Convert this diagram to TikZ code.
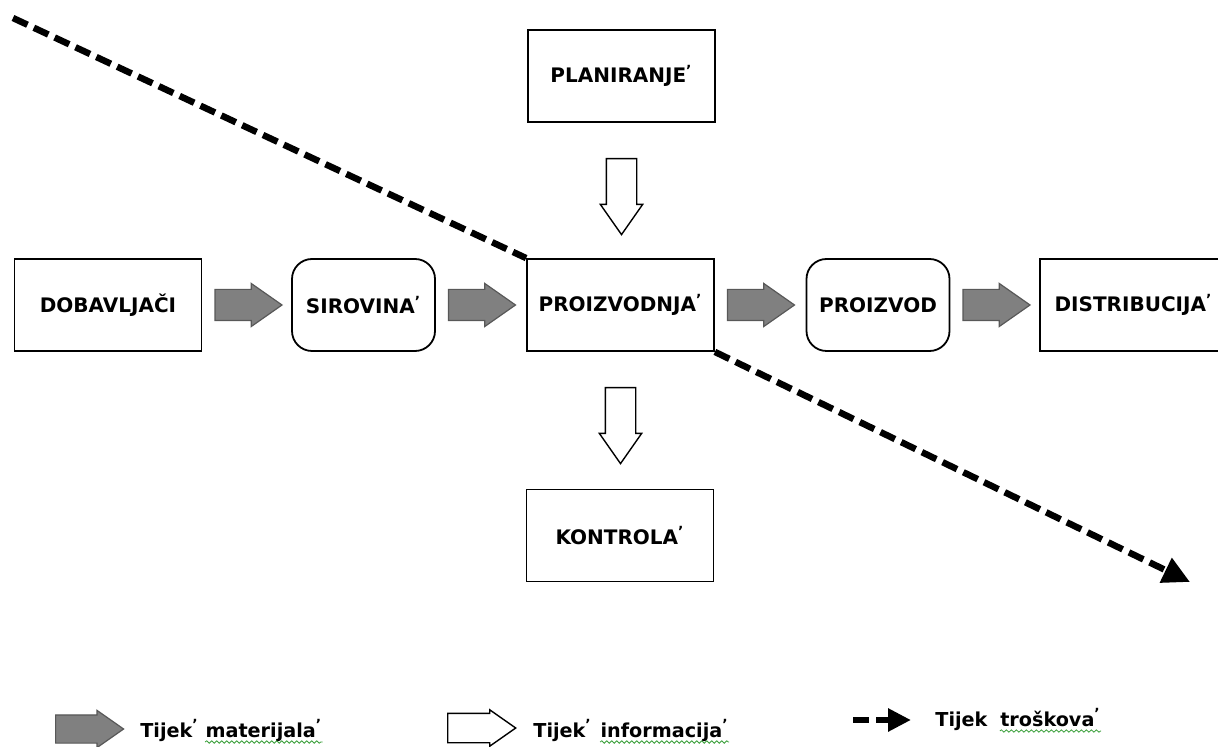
\documentclass[tikz,border=0pt]{standalone}
\usepackage{fontspec}
\setmainfont{DejaVu Sans}
\usetikzlibrary{
    arrows.meta,
    shapes.arrows,
    calc,
    decorations.pathmorphing
}

\definecolor{matfill}{RGB}{128,128,128}
\definecolor{matline}{RGB}{88,88,88}
\definecolor{squig}{RGB}{60,160,60}

\newcommand{\rmk}{\textsuperscript{\fontsize{7}{7}\selectfont\symbol{39}}}

\begin{document}
\begin{tikzpicture}[x=0.5pt,y=-0.5pt,
    box/.style={draw,line width=0.9pt,fill=white,minimum width=93.5pt,
        minimum height=46pt,inner sep=0pt,
        font=\bfseries\fontsize{10}{12}\selectfont},
    rbox/.style={box,minimum width=71.5pt,rounded corners=10pt},
    matarrow/.style={single arrow,draw=matline,fill=matfill,line width=0.6pt,
        inner xsep=0pt,inner ysep=7.5pt,minimum height=33.5pt,
        single arrow head extend=3pt,single arrow tip angle=70,anchor=tail},
    infoshape/.style={single arrow,draw,fill=white,line width=0.7pt,
        inner xsep=0pt,inner ysep=7.25pt,minimum height=38pt,
        single arrow head extend=3pt,single arrow tip angle=70,anchor=tail},
    infoarrow/.style={infoshape,rotate=-90},
    cost/.style={line width=3.25pt,dash pattern=on 8pt off 3.5pt,
        -{Triangle[length=13.5pt,width=13pt]}},
    legtext/.style={inner sep=0pt,anchor=base west,
        font=\bfseries\fontsize{9.6}{11}\selectfont},
    squiggle/.style={draw=squig,line width=0.4pt,decorate,
        decoration={snake,segment length=2.5pt,amplitude=0.6pt}}
]
\clip (0,0) rectangle (1218,747);

% boxes
\node[box] (dob) at (108,305) {DOBAVLJAČI};
\node[rbox] (sir) at (363.5,305) {SIROVINA\rmk};
\node[box] (pro) at (620.5,305) {PROIZVODNJA\rmk};
\node[rbox] (prod) at (878,305) {PROIZVOD};
\node[box] (dist) at (1133.5,305) {DISTRIBUCIJA\rmk};
\node[box] (plan) at (621.5,76) {PLANIRANJE\rmk};
\node[box] (kon) at (620,535.5) {KONTROLA\rmk};

% material flow
\foreach \a in {dob,sir,pro,prod}{
    \node[matarrow] at ([xshift=6pt]\a.east) {};
}

% information flow
\node[infoarrow] (inf1) at ([yshift=-17.5pt]plan.south) {};
\node[infoarrow] (inf2) at ([yshift=-17.5pt]pro.south) {};

% cost flow
\coordinate (cs) at (13,18);
\coordinate (ce) at (1190,582);
\draw[cost,-] (cs) -- (pro.north west);
\draw[cost] (pro.south east) -- (ce);

% legend
\node[matarrow,inner ysep=6.75pt,single arrow head extend=2.25pt,
      minimum height=34pt] (lmat) at (55,729) {};
\node[legtext] (lt1) at (140,737) {Tijek\rmk};
\node[legtext] (lw1) at ([xshift=3pt]lt1.base east) {materijala\rmk};
\draw[squiggle] ([yshift=-2.5pt]lw1.base west) -- ([yshift=-2.5pt]lw1.base east);

\node[infoshape,inner ysep=7pt,single arrow head extend=1.75pt,
      minimum height=34pt] (linf) at (447,728) {};
\node[legtext] (lt2) at (533,737) {Tijek\rmk};
\node[legtext] (lw2) at ([xshift=4pt]lt2.base east) {informacija\rmk};
\draw[squiggle] ([yshift=-2.5pt]lw2.base west) -- ([yshift=-2.5pt]lw2.base east);

\coordinate (la) at (853,720);
\coordinate (lb) at (911,720);
\draw[cost,-{Triangle[length=11.5pt,width=11pt]}] (la) -- (lb);
\node[legtext] (lt3) at (935,726) {Tijek};
\node[legtext] (lw3) at ([xshift=6pt]lt3.base east) {troškova\rmk};
\draw[squiggle] ([yshift=-2.5pt]lw3.base west) -- ([yshift=-2.5pt]lw3.base east);

\end{tikzpicture}
\end{document}
